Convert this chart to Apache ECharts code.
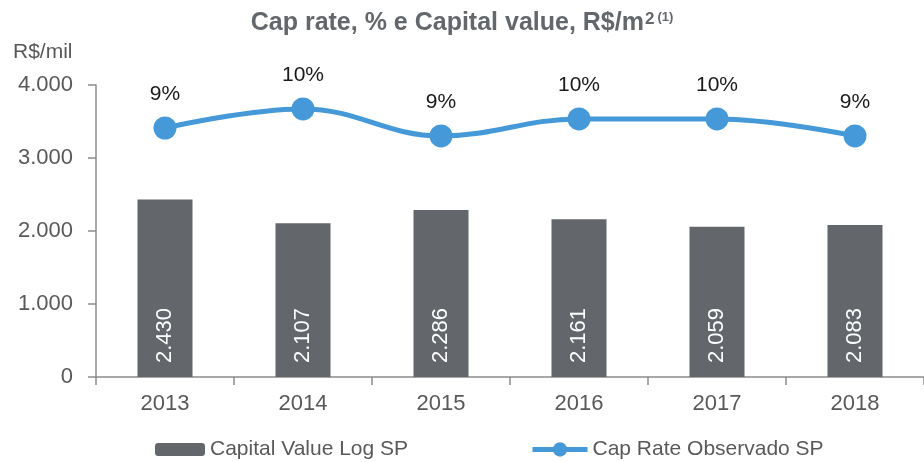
<!DOCTYPE html>
<html>
<head>
<meta charset="utf-8">
<script src="https://cdn.jsdelivr.net/npm/echarts@6/dist/echarts.min.js"></script>
<style>
  html, body { margin: 0; padding: 0; background: #fff; }
  #chart { width: 924px; height: 462px; }
</style>
</head>
<body>
<div id="chart"></div>
<script>
// dados
const anos = ['2013', '2014', '2015', '2016', '2017', '2018'];
const capitalValue = [2430, 2107, 2286, 2161, 2059, 2083];   // R$/m2
const capRate = [9.38, 10.1, 9.08, 9.72, 9.72, 9.08];        // %
const yTicks = [0, 1000, 2000, 3000, 4000];

const cinza = '#595959';
const fonte = 'Liberation Sans, Arial, sans-serif';
const azul = '#4599d8';

function fmtMil(v) {
  // separador de milhar com ponto
  return String(v).replace(/\B(?=(\d{3})+(?!\d))/g, '.');
}

const chart = echarts.init(document.getElementById('chart'));

const legendText = { color: cinza, fontSize: 21, fontFamily: fonte };

const option = {
  animation: false,
  textStyle: { fontFamily: fonte },
  title: {
    text: '{t|Cap rate, % e Capital value, R$/m}{s|2}{n|(1)}',
    left: 'center',
    top: 6,
    textStyle: {
      rich: {
        t: { fontSize: 25, fontWeight: 'bold', color: '#63676b', fontFamily: fonte },
        s: { fontSize: 17, fontWeight: 'bold', color: '#63676b', fontFamily: fonte, verticalAlign: 'top', padding: [0, 3, 6, 1] },
        n: { fontSize: 13, fontWeight: 'bold', color: '#63676b', fontFamily: fonte, verticalAlign: 'top', padding: [0, 0, 12, 0] }
      }
    }
  },
  legend: [{
    left: 150,
    top: 434,
    itemWidth: 50,
    itemHeight: 13,
    textStyle: legendText,
    data: ['Capital Value Log SP']
  }, {
    left: 525,
    top: 434,
    itemWidth: 55,
    itemHeight: 18,
    lineStyle: { width: 5 },
    textStyle: legendText,
    data: ['Cap Rate Observado SP']
  }],
  grid: { left: 96, right: 0, top: 85, bottom: 85 },
  xAxis: {
    type: 'category',
    data: anos,
    axisLine: { lineStyle: { color: '#8c8c8c', width: 1.5 } },
    axisTick: { show: true, length: 8, lineStyle: { color: '#8c8c8c', width: 1.5 } },
    axisLabel: { color: cinza, fontSize: 22, margin: 16 }
  },
  yAxis: [{
    type: 'value',
    min: yTicks[0],
    max: yTicks[yTicks.length - 1],
    interval: 1000,
    name: 'R$/mil',
    nameLocation: 'end',
    nameGap: 22,
    nameTextStyle: { color: cinza, fontSize: 21, align: 'left', padding: [0, 0, 0, -83] },
    axisLine: { show: true, lineStyle: { color: '#8c8c8c', width: 1.5 } },
    axisTick: { show: true, length: 8, lineStyle: { color: '#8c8c8c', width: 1.5 } },
    axisLabel: { color: cinza, fontSize: 22, margin: 23, formatter: v => fmtMil(v) },
    splitLine: { show: false }
  }, {
    type: 'value',
    min: 0,
    max: 11,
    show: false,
    splitLine: { show: false }
  }],
  series: [{
    name: 'Capital Value Log SP',
    type: 'bar',
    data: capitalValue,
    barWidth: 55,
    itemStyle: { color: '#63676b' },
    label: {
      show: true,
      position: 'insideBottom',
      rotate: 90,
      align: 'left',
      verticalAlign: 'middle',
      distance: 14,
      color: '#fff',
      fontSize: 22,
      formatter: p => fmtMil(p.value)
    }
  }, {
    name: 'Cap Rate Observado SP',
    type: 'line',
    yAxisIndex: 1,
    data: capRate,
    smooth: 0.4,
    symbol: 'circle',
    symbolSize: 23,
    lineStyle: { color: azul, width: 5 },
    itemStyle: { color: azul },
    label: {
      show: true,
      position: 'top',
      distance: 12,
      color: '#1a1a1a',
      fontSize: 21,
      formatter: p => Math.round(p.value) + '%'
    }
  }]
};

chart.setOption(option);
</script>
</body>
</html>
